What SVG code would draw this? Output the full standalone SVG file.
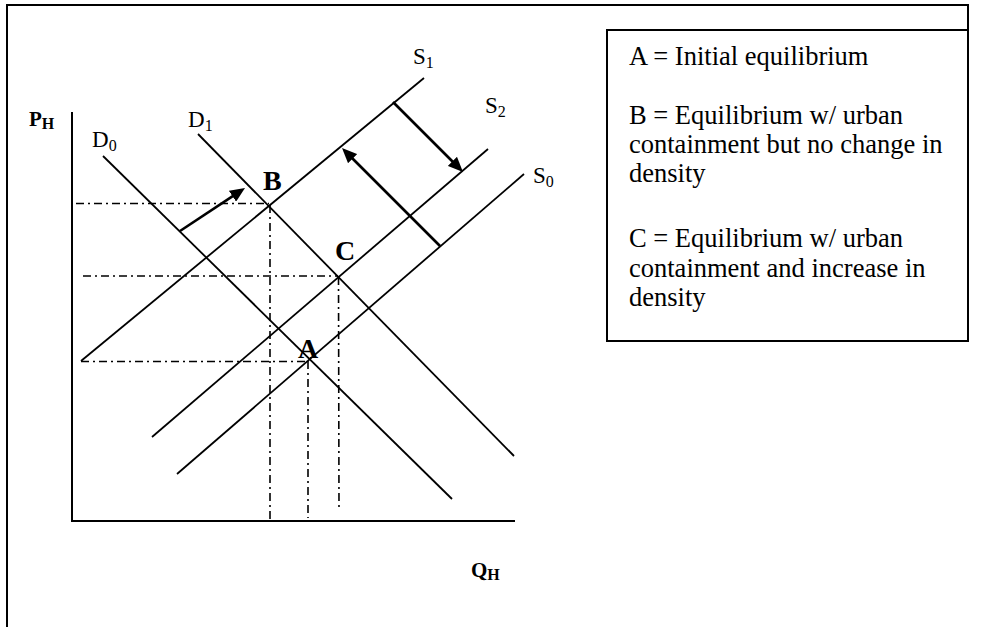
<svg xmlns="http://www.w3.org/2000/svg" width="981" height="627" viewBox="0 0 981 627">
<style>
.frame{fill:none;stroke:#000;stroke-width:2}
.axis{fill:none;stroke:#000;stroke-width:2}
.curve{fill:none;stroke:#000;stroke-width:1.8}
.guide{fill:none;stroke:#000;stroke-width:1.6;stroke-dasharray:8,4,2,4}
.shift{fill:none;stroke:#000;stroke-width:2.6}
.lbl{font-family:"Liberation Serif","Times New Roman",serif;fill:#000;font-size:23px}
.sub{font-size:16px}
.pt{font-family:"Liberation Serif","Times New Roman",serif;font-weight:bold;fill:#000;font-size:28px}
.ax{font-family:"Liberation Serif","Times New Roman",serif;font-weight:bold;fill:#000;font-size:21px}
.leg{font-family:"Liberation Serif","Times New Roman",serif;fill:#000;font-size:26.5px}
</style>
<defs>
<marker id="head" viewBox="0 0 15 13" markerWidth="15" markerHeight="13" refX="3" refY="6.5" orient="auto" markerUnits="userSpaceOnUse">
<path d="M0,0 L15,6.5 L0,13 z" fill="#000"/>
</marker>
</defs>
<rect width="981" height="627" fill="#fff"/>
<g id="frame">
<polyline class="frame" points="7,627 7,5 968,5 968,30"/>
</g>
<g id="axes">
<line class="axis" x1="72" y1="112" x2="72" y2="521"/>
<line class="axis" x1="71" y1="521" x2="515" y2="521"/>
<text class="ax" x="29" y="126">P<tspan class="sub" dy="3">H</tspan></text>
<text class="ax" x="471" y="577">Q<tspan class="sub" dy="3">H</tspan></text>
</g>
<g id="connectors">
<g id="curves">
<line id="D0" class="curve" x1="103" y1="156" x2="452" y2="499"/>
<line id="D1" class="curve" x1="198" y1="134" x2="514" y2="456"/>
<line id="S1" class="curve" x1="81" y1="361" x2="424" y2="78"/>
<line id="S2" class="curve" x1="152" y1="437" x2="488" y2="149"/>
<line id="S0" class="curve" x1="177" y1="474" x2="524" y2="174"/>
</g>
<g id="guides">
<line class="guide" x1="76" y1="203.5" x2="269" y2="203.5"/>
<line class="guide" x1="83" y1="276" x2="338" y2="276"/>
<line class="guide" x1="81" y1="361.5" x2="308" y2="361.5"/>
<line class="guide" x1="270" y1="205" x2="270" y2="520"/>
<line class="guide" x1="308" y1="361" x2="308" y2="518"/>
<line class="guide" x1="338.5" y1="277" x2="339" y2="510"/>
</g>
<g id="shifts">
<line class="shift" x1="180" y1="231" x2="235" y2="194.6" marker-end="url(#head)"/>
<line class="shift" x1="393" y1="102" x2="454.5" y2="163.5" marker-end="url(#head)"/>
<line class="shift" x1="440" y1="246" x2="350.5" y2="156.5" marker-end="url(#head)"/>
</g>
</g>
<g id="curve-labels">
<text class="lbl" x="413" y="64">S<tspan class="sub" dy="4">1</tspan></text>
<text class="lbl" x="485" y="113">S<tspan class="sub" dy="4">2</tspan></text>
<text class="lbl" x="533" y="183">S<tspan class="sub" dy="4">0</tspan></text>
<text class="lbl" x="92" y="147">D<tspan class="sub" dy="4">0</tspan></text>
<text class="lbl" x="188" y="127">D<tspan class="sub" dy="4">1</tspan></text>
</g>
<g id="point-B"><text class="pt" x="263" y="190">B</text></g>
<g id="point-C"><text class="pt" x="335" y="260">C</text></g>
<g id="point-A"><text class="pt" x="298" y="358">A</text></g>
<g id="legend">
<rect class="frame" x="607" y="30" width="361" height="311"/>
<text class="leg" x="629" y="65">A = Initial equilibrium</text>
<text class="leg" x="629" y="124">B = Equilibrium w/ urban</text>
<text class="leg" x="629" y="153">containment but no change in</text>
<text class="leg" x="629" y="182">density</text>
<text class="leg" x="629" y="247">C = Equilibrium w/ urban</text>
<text class="leg" x="629" y="277">containment and increase in</text>
<text class="leg" x="629" y="306">density</text>
</g>
</svg>
